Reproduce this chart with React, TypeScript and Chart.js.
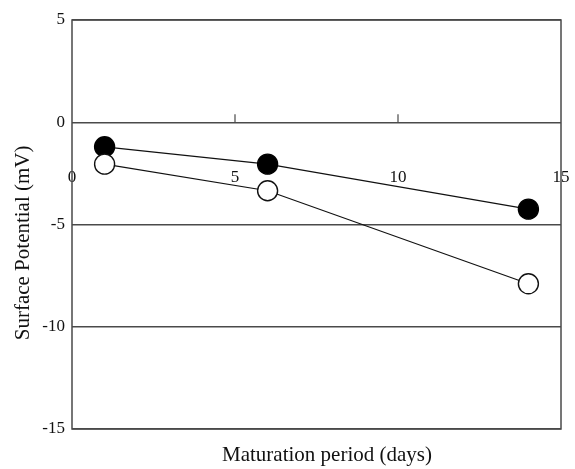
import React, { useEffect, useRef } from "react";
import { Chart, registerables } from "chart.js";

Chart.register(...registerables);

// Maturation period (days) at which surface potential was measured
const days = [1, 6, 14];
// Surface potential (mV) for the two samples
const filledSeries = [-1.2, -2.05, -4.25];
const openSeries = [-2.05, -3.35, -7.9];
// Axis ranges and tick spacing
const xTicks = [0, 5, 10, 15];
const yTicks = [-15, -10, -5, 0, 5];
const upperTickDays = [5, 10];

const SERIF = "'Liberation Serif', 'Times New Roman', Times, serif";
const GRID = "#4a4a4a";

// Frame around the plot area plus short upward ticks on the zero line
const framePlugin = {
  id: "frame",
  afterDraw(chart: any) {
    const { ctx, chartArea } = chart;
    const x = chart.scales.x;
    const y = chart.scales.y;
    ctx.save();
    ctx.strokeStyle = GRID;
    ctx.lineWidth = 1.5;
    ctx.strokeRect(chartArea.left, chartArea.top, chartArea.right - chartArea.left, chartArea.bottom - chartArea.top);
    const y0 = y.getPixelForValue(0);
    ctx.lineWidth = 1.2;
    ctx.beginPath();
    for (const d of upperTickDays) {
      const px = x.getPixelForValue(d);
      ctx.moveTo(px, y0);
      ctx.lineTo(px, y0 - 8);
    }
    ctx.stroke();
    ctx.restore();
  },
};

export default function App() {
  const canvasRef = useRef<HTMLCanvasElement>(null);

  useEffect(() => {
    const canvas = canvasRef.current;
    if (!canvas) return;
    const toPoints = (vals: number[]) => days.map((d, i) => ({ x: d, y: vals[i] }));
    const chart = new Chart(canvas, {
      type: "scatter",
      data: {
        datasets: [
          {
            data: toPoints(openSeries),
            showLine: true,
            borderColor: "#111",
            borderWidth: 1.2,
            pointRadius: 10,
            pointBackgroundColor: "#fff",
            pointBorderColor: "#111",
            pointBorderWidth: 1.4,
          },
          {
            data: toPoints(filledSeries),
            showLine: true,
            borderColor: "#111",
            borderWidth: 1.2,
            pointRadius: 10,
            pointBackgroundColor: "#000",
            pointBorderColor: "#000",
            pointBorderWidth: 1.4,
          },
        ],
      },
      options: {
        animation: false,
        responsive: false,
        layout: { padding: { top: 20, right: 14, bottom: 0, left: 0 } },
        plugins: { legend: { display: false }, tooltip: { enabled: false } },
        scales: {
          x: {
            type: "linear",
            position: { y: 0 } as any,
            min: xTicks[0],
            max: xTicks[xTicks.length - 1],
            afterBuildTicks: (s: any) => {
              s.ticks = xTicks.map((v) => ({ value: v }));
            },
            // labels sit well below the zero line; keep them from squeezing the plot area
            afterFit: (s: any) => {
              s.paddingLeft = 0;
              s.paddingRight = 0;
            },
            grid: { display: false, drawTicks: false },
            border: { display: false },
            ticks: {
              padding: 45,
              color: "#111",
              font: { family: SERIF, size: 17 },
            },
          },
          xTitle: {
            type: "linear",
            axis: "x",
            position: "bottom",
            min: xTicks[0],
            max: xTicks[xTicks.length - 1],
            grid: { display: false, drawTicks: false },
            border: { display: false },
            ticks: { display: false },
            afterFit: (s: any) => {
              s.height = 40;
            },
            title: {
              display: true,
              text: "    Maturation period (days)",
              color: "#111",
              font: { family: SERIF, size: 21 },
              padding: { top: 0, bottom: 1 },
            },
          },
          y: {
            type: "linear",
            position: "left",
            min: yTicks[0],
            max: yTicks[yTicks.length - 1],
            afterBuildTicks: (s: any) => {
              s.ticks = yTicks.map((v) => ({ value: v }));
            },
            afterFit: (s: any) => {
              s.width = 72;
            },
            grid: { color: GRID, lineWidth: 1.5, drawTicks: false },
            border: { display: false },
            ticks: {
              padding: 7,
              color: "#111",
              font: { family: SERIF, size: 17 },
            },
            title: {
              display: true,
              text: "Surface Potential (mV)       ",
              color: "#111",
              font: { family: SERIF, size: 21 },
              padding: { top: 11, bottom: 0 },
            },
          },
        },
      },
      plugins: [framePlugin],
    });
    return () => chart.destroy();
  }, []);

  return (
    <div style={{ position: "absolute", left: 0, top: 0, width: 575, height: 469, background: "#fff" }}>
      <canvas ref={canvasRef} width={575} height={469} />
    </div>
  );
}
